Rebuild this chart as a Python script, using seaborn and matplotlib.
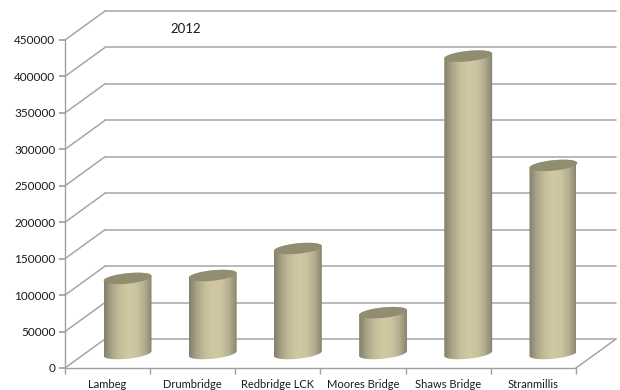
# Flow totals per site, 2012 - Excel style 3D cylinder chart
import numpy as np
import pandas as pd
import matplotlib
matplotlib.use("Agg")
import matplotlib.pyplot as plt
from matplotlib.colors import LinearSegmentedColormap
from matplotlib.patches import Polygon
import seaborn as sns

sites = ["Lambeg", "Drumbridge", "Redbridge LCK", "Moores Bridge", "Shaws Bridge", "Stranmillis"]
totals = [103000, 107000, 144000, 56000, 408000, 258000]
y_ticks = [0, 50000, 100000, 150000, 200000, 250000, 300000, 350000, 400000, 450000]

sns.set_theme(style="white")
plt.rcParams["font.family"] = ["Lato", "DejaVu Sans"]

fig = plt.figure(figsize=(6.2, 3.9), dpi=100)
ax = fig.add_axes([65 / 620, 22 / 390, 511 / 620, 328 / 390])

df = pd.DataFrame({"site": sites, "total": totals})
sns.barplot(data=df, x="site", y="total", width=0.565, ax=ax)

# pixel scales, the 3D depth is worked out in data units from these
px_x = 511 / 6
px_y = 328 / 450000
depth_x = 40 / px_x
depth_y = 29 / px_y

grid_col = "#a6a6a6"
for v in y_ticks:
    ax.plot([-0.5, -0.5 + depth_x], [v, v + depth_y], color=grid_col, lw=1.1, clip_on=False, zorder=1)
    ax.plot([-0.5 + depth_x, 5.5 + depth_x], [v + depth_y, v + depth_y], color=grid_col, lw=1.1, clip_on=False, zorder=1)
ax.plot([5.5, 5.5 + depth_x], [0, depth_y], color=grid_col, lw=1.1, clip_on=False, zorder=1)

# cylinders
cyl_cmap = LinearSegmentedColormap.from_list(
    "cyl", ["#84806a", "#aca78b", "#c6bf9b", "#d0c9a3", "#cbc49e", "#b3ae90", "#85816b"]
)
gradient = np.linspace(0, 1, 64).reshape(1, -1)
tilt = np.radians(6)
minor_r = 5.2


def ellipse_pts(cx, cy, a, b, t):
    ex = a * np.cos(t) * np.cos(tilt) - b * np.sin(t) * np.sin(tilt)
    ey = a * np.cos(t) * np.sin(tilt) + b * np.sin(t) * np.cos(tilt)
    return np.column_stack([cx + ex / px_x, cy + ey / px_y])


for bar in ax.patches:
    cx = bar.get_x() + bar.get_width() / 2 + depth_x / 2
    base = depth_y / 2
    top = base + bar.get_height()
    a = bar.get_width() * px_x / 2
    bar.set_visible(False)

    upper = ellipse_pts(cx, top, a, minor_r, np.linspace(0, np.pi, 40))
    lower = ellipse_pts(cx, base, a, minor_r, np.linspace(np.pi, 2 * np.pi, 40))
    body = Polygon(np.vstack([upper, lower]), closed=True, transform=ax.transData)

    im = ax.imshow(
        gradient, cmap=cyl_cmap, aspect="auto", zorder=3,
        extent=[cx - a / px_x, cx + a / px_x, base - 12 / px_y, top + 12 / px_y],
    )
    im.set_clip_path(body)

    cap = ellipse_pts(cx, top, a, minor_r, np.linspace(0, 2 * np.pi, 80))
    ax.fill(cap[:, 0], cap[:, 1], color="#918d70", lw=0, zorder=4, clip_on=False)

ax.set_xlim(-0.5, 5.5)
ax.set_ylim(0, 450000)
ax.set_xlabel("")
ax.set_ylabel("")
ax.set_yticks(y_ticks)
ax.set_xticks(range(6))
ax.set_xticklabels(sites)
ax.set_xticks(np.arange(-0.5, 6), minor=True)

for s in ["top", "right"]:
    ax.spines[s].set_visible(False)
for s in ["left", "bottom"]:
    ax.spines[s].set_color("#a0a0a0")
    ax.spines[s].set_linewidth(1)

ax.tick_params(axis="y", left=True, length=4, color="#a0a0a0", labelsize=8.5, labelcolor="#1a1a1a", pad=3)
ax.tick_params(axis="x", which="major", bottom=False, length=0, labelsize=8, labelcolor="#1a1a1a", pad=8)
ax.tick_params(axis="x", which="minor", bottom=True, length=4, color="#a0a0a0")

fig.text(170 / 620, 1 - 29 / 390, "2012", fontsize=9.5, color="#1a1a1a", va="center", ha="left")

fig.savefig("out.png", dpi=100, facecolor="white")
